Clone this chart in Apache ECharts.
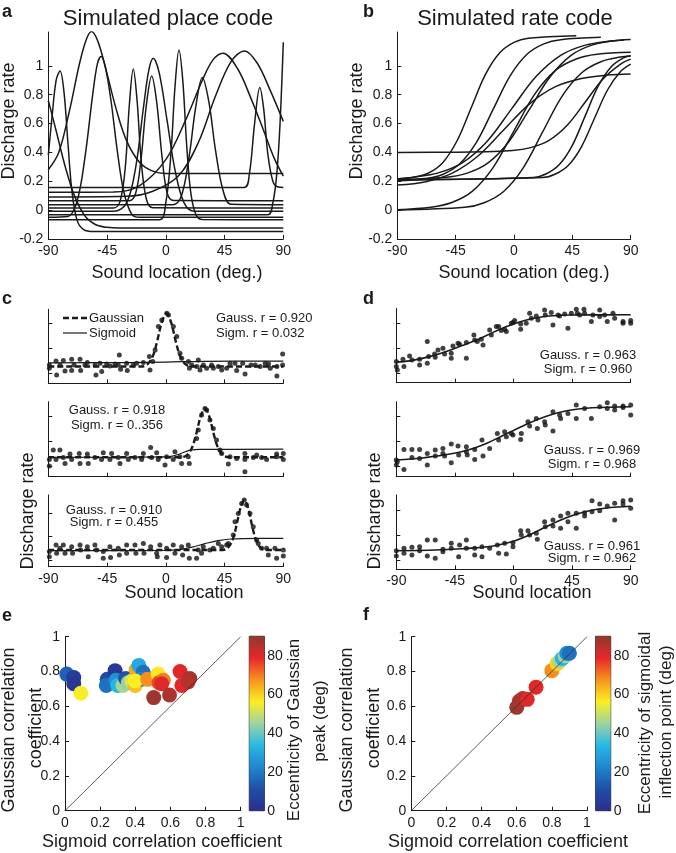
<!DOCTYPE html>
<html>
<head>
<meta charset="utf-8">
<script src="https://cdn.jsdelivr.net/npm/echarts@6/dist/echarts.min.js"></script>
<style>
html, body { margin: 0; padding: 0; background: #fff; }
#fig { width: 676px; height: 853px; }
</style>
</head>
<body>
<div id="fig"></div>
<script>
// ---------- tick labels ----------
var locTicks = [-90, -45, 0, 45, 90];
var rateTicks = [-0.2, 0, 0.2, 0.4, 0.6, 0.8, 1];
var fitTicks = [0, 1, 2];
var corrTicks = [0, 0.2, 0.4, 0.6, 0.8, 1];
var eccTicks = [0, 20, 40, 60, 80];

// ---------- a: simulated place code, [deg, rate] per cell ----------
var placeCurves = [
  [[-90,0.28],[-82,0.4],[-74,0.68],[-66,1.02],[-61,1.18],[-57,1.238],[-52,1.17],[-46,0.98],[-38,0.7],[-30,0.48],[-20,0.33],[-10,0.27],[0,0.254],[90,0.254]],
  [[-90,-0.05],[-75,-0.045],[-68,0.06],[-62,0.36],[-56,0.8],[-52.5,1.01],[-49.6,1.065],[-46.5,1.0],[-42,0.76],[-37,0.4],[-32,0.12],[-26,-0.03],[-20,-0.05],[90,-0.05]],
  [[-90,0.38],[-87,0.66],[-84,0.9],[-81,0.965],[-78,0.82],[-75,0.47],[-72,0.14],[-68,-0.07],[-63,-0.135],[-55,-0.148],[90,-0.148]],
  [[-90,0.76],[-84,0.55],[-77,0.3],[-70,0.1],[-62,-0.04],[-54,-0.1],[-45,-0.12],[-35,-0.125],[90,-0.125]],
  [[-90,0.014],[-40,0.014],[-35,0.06],[-31,0.3],[-28,0.72],[-24.9,0.979],[-22,0.76],[-19,0.36],[-15,0.08],[-10,0.016],[90,0.014]],
  [[-90,-0.009],[-40,-0.009],[-30,0.05],[-23,0.3],[-17,0.72],[-13,0.97],[-9.6,1.053],[-5,0.95],[1,0.62],[7,0.28],[14,0.05],[22,-0.008],[90,-0.009]],
  [[-90,0.065],[-28,0.065],[-23,0.12],[-19,0.35],[-15,0.72],[-10.8,0.93],[-7,0.75],[-3,0.38],[1,0.12],[6,0.066],[90,0.065]],
  [[-90,-0.067],[-5,-0.067],[0,0.05],[4,0.4],[7,0.85],[10.1,1.111],[13,0.9],[16,0.45],[19,0.13],[23,-0.03],[28,-0.066],[90,-0.067]],
  [[-90,0.037],[5,0.037],[12,0.1],[18,0.38],[23,0.72],[28,0.92],[33,0.75],[38,0.42],[44,0.13],[50,0.04],[90,0.037]],
  [[-90,0.123],[-40,0.125],[-20,0.17],[0,0.35],[15,0.62],[28,0.9],[36,1.04],[43.8,1.088],[55,0.98],[65,0.78],[75,0.55],[83,0.36],[90,0.235]],
  [[-90,0.09],[-30,0.095],[-10,0.13],[10,0.24],[25,0.47],[38,0.79],[50,1.03],[60.4,1.104],[70,1.02],[80,0.83],[90,0.615]],
  [[-90,0.157],[60,0.157],[64,0.25],[68,0.6],[72,0.85],[75,0.7],[78,0.4],[82,0.2],[86,0.16],[90,0.157]],
  [[-90,-0.032],[78,-0.032],[82,0.05],[85,0.25],[87.5,0.6],[90,1.164]]
];

// ---------- b: simulated rate code ----------
var rateCurves = [
  [[-90,0.217],[-77,0.228],[-66,0.257],[-55,0.329],[-44,0.479],[-33,0.71],[-22,0.941],[-11,1.091],[0,1.163],[11,1.192],[48,1.209]],
  [[-90,0.203],[-68,0.218],[-55,0.247],[-42,0.319],[-29,0.469],[-16,0.7],[-3,0.931],[10,1.081],[23,1.153],[36,1.182],[67,1.198]],
  [[-90,0.212],[-52,0.228],[-36,0.256],[-20,0.327],[-4,0.474],[12,0.7],[28,0.926],[44,1.073],[60,1.144],[76,1.172],[85,1.18]],
  [[-90,0.215],[-78,0.228],[-59,0.256],[-40,0.327],[-21,0.474],[-2,0.7],[17,0.926],[36,1.073],[55,1.144],[74,1.172],[90,1.183]],
  [[-90,0.173],[-68,0.197],[-48,0.254],[-28,0.373],[-8,0.555],[12,0.737],[32,0.856],[52,0.913],[72,0.936],[90,0.944]],
  [[-90,0.4],[-45,0.401],[-1,0.413],[13,0.433],[27,0.483],[41,0.588],[55,0.75],[69,0.912],[83,1.017],[90,1.047]],
  [[-90,0.003],[-64,0.02],[-48,0.052],[-32,0.131],[-16,0.296],[0,0.55],[16,0.804],[32,0.969],[48,1.048],[64,1.08],[90,1.094]],
  [[-90,0.001],[-38,0.019],[-23,0.051],[-8,0.129],[7,0.291],[22,0.54],[37,0.789],[52,0.951],[67,1.029],[82,1.061],[90,1.068]],
  [[-90,0.21],[15,0.226],[25,0.252],[35,0.316],[45,0.449],[55,0.655],[65,0.861],[75,0.994],[85,1.058],[90,1.07]],
  [[-90,0.21],[22,0.225],[32,0.25],[42,0.311],[52,0.439],[62,0.635],[72,0.831],[82,0.959],[90,1.012]]
];

// ---------- c: example place-coded cells ----------
var placeDots1 = [[-89.2,0.33],[-89.2,0.2],[-84.1,0.49],[-83.6,-0.07],[-81,0.33],[-78.5,0.51],[-77.2,0.09],[-72.1,0.56],[-72.1,0.11],[-70.3,0.33],[-65.7,0.56],[-65.2,0.11],[-61.9,0.33],[-60.1,0.43],[-54.2,0.33],[-53.5,-0.07],[-50.4,0.4],[-49.1,0.07],[-45.3,0.37],[-42.7,0.29],[-38.9,0.37],[-36.4,0.33],[-35.6,0.73],[-34.6,0.16],[-30,0.4],[-29.5,0.11],[-24.9,0.33],[-22.3,0.4],[-17.2,0.43],[-12.6,0.67],[-12.1,0.13],[-10,0.47],[-8.2,0.93],[-5.7,1.87],[-3.1,2.13],[0.8,2.4],[2,2.33],[5.8,1.87],[8.4,1.47],[10.9,0.8],[12.2,0.6],[17.3,0.47],[18.1,0.2],[19.9,0.33],[23.7,0.27],[24.9,0.53],[26.2,0.13],[28.8,0.33],[31.3,0.2],[35.1,0.33],[36.4,0.2],[40.2,0.27],[42.8,0.13],[46.6,0.2],[49.2,0.4],[53,0.4],[54.3,0.11],[58.9,0.4],[60.7,-0.03],[65.3,0.33],[68.5,0.33],[72.3,0.27],[76.1,0.4],[78.7,0.37],[80,0.2],[85.1,0.27],[85.1,-0.11],[89.5,0.77],[89.5,0.33]];
var placeGauss1 = [[-90,0.27],[-18.6,0.27],[-14,0.364],[-9.9,0.692],[-6.5,1.307],[-3,2.049],[0.5,2.4],[4,2.049],[7.5,1.307],[10.9,0.692],[15,0.364],[19.6,0.27],[90,0.27]];
var placeSigm1 = [[-90,0.42],[-30,0.43],[0,0.45],[30,0.48],[90,0.49]];

var placeDots2 = [[-89.2,0.29],[-89.2,0.03],[-86.2,0.67],[-84.1,0.29],[-81.1,0.67],[-78.5,0.37],[-77.2,0.13],[-73.4,0.51],[-72.1,0.29],[-66.3,0.53],[-65.7,0.13],[-60.1,0.51],[-59.4,0.13],[-54.3,0.37],[-49.2,0.29],[-47.9,0.56],[-42.8,0.29],[-41.5,0.53],[-36.4,0.37],[-35.1,0.13],[-30,0.53],[-28.7,0.29],[-23.6,0.37],[-18.5,0.29],[-17.2,0.53],[-11.6,0.77],[-10.9,0.37],[-7,0.56],[-5.8,0.29],[-0.6,0.07],[0.6,0.4],[5.7,0.29],[7,0.6],[10.8,0.4],[12.1,0.13],[17.2,0.4],[18,0.13],[23.6,1.13],[24.9,1.47],[27.4,2.07],[30,2.33],[31.3,2.27],[33.8,1.87],[36.4,1.53],[38.9,1.07],[41.5,0.67],[42.8,0.53],[47.9,0.11],[49.2,0.4],[54.3,0.33],[60.6,0.53],[60.6,0.29],[60.6,-0.2],[67,0.37],[69.6,0.47],[73.4,0.37],[77.2,0.29],[84.9,0.51],[84.9,0.4],[90,0.53],[90,0.29]];
var placeGauss2 = [[-90,0.38],[11.85,0.38],[16.25,0.466],[20.1,0.766],[23.4,1.33],[26.7,2.008],[30,2.33],[33.3,2.008],[36.6,1.33],[39.9,0.766],[43.75,0.466],[48.15,0.38],[90,0.38]];
var placeSigm2 = [[-90,0.37],[0,0.39],[5,0.42],[10,0.5],[15,0.6],[20,0.67],[26,0.69],[90,0.7]];

var placeDots3 = [[-89.2,0.36],[-89.2,0.14],[-84.1,0.64],[-83.6,0.29],[-81.1,0.5],[-78.5,0.64],[-77.2,0.29],[-72.1,0.57],[-71.4,0.29],[-65.7,0.64],[-65.2,0.43],[-60.1,0.57],[-59.4,0.14],[-54.3,0.64],[-53,0.43],[-47.9,0.36],[-47.9,0.07],[-42.8,0.57],[-42.3,0.11],[-36.4,0.5],[-35.6,0.21],[-30,0.64],[-30,0.29],[-23.6,0.64],[-22.9,0.29],[-17.2,0.71],[-16.7,0.29],[-11.6,0.57],[-7,0.29],[-6.5,0.14],[-4.5,0.64],[0.6,0.5],[0.6,0.11],[5.7,0.64],[7,0.29],[12.1,0.57],[12.9,0.21],[17.2,0.64],[18,0.07],[23.6,0.07],[24.9,0.43],[27.4,0.29],[28.7,0.57],[33.8,0.43],[36.4,0.5],[40.2,0.71],[42.8,0.57],[46.6,0.64],[47.9,0.71],[51.7,1.07],[53,1.64],[55.5,2.0],[58.1,2.43],[60.1,2.57],[61.9,2.36],[64.5,2.0],[67,1.43],[69.6,0.86],[70.8,0.71],[73.4,0.5],[77.2,0.5],[78.5,0.21],[83.6,0.5],[84.9,0.07],[90,0.43],[90,0.17]];
var placeGauss3 = [[-90,0.43],[43.6,0.43],[47.6,0.524],[51.1,0.854],[54.1,1.472],[57.1,2.217],[60.1,2.57],[63.1,2.217],[66.1,1.472],[69.1,0.854],[72.6,0.524],[76.6,0.43],[90,0.43]];
var placeSigm3 = [[-90,0.4],[0,0.41],[10,0.44],[20,0.55],[30,0.7],[40,0.83],[50,0.9],[60,0.92],[90,0.93]];

// ---------- d: example rate-coded cells ----------
var rateDots1 = [[-90,0.47],[-90,0.27],[-89.2,0.13],[-84.9,0.56],[-84.1,0.27],[-79.8,0.69],[-78,0.53],[-72.1,0.56],[-72.1,0.33],[-66.2,1.27],[-66.2,0.4],[-65.2,0.67],[-60.6,0.77],[-60.1,0.64],[-58,0.93],[-54.2,1.0],[-52.9,0.77],[-47.8,0.8],[-47.8,0.6],[-46.5,1.09],[-42.6,1.2],[-41.4,1.16],[-36.2,0.6],[-36.2,1.23],[-30.4,1.53],[-29.8,1.33],[-27.8,1.27],[-24.7,1.36],[-23.4,1.13],[-18.3,1.73],[-17,1.53],[-13.2,1.87],[-11.4,1.87],[-9.4,1.71],[-6.8,1.76],[-5.5,1.67],[-1.7,2.0],[-0.4,2.03],[0.9,2.11],[5.5,1.76],[5.5,1.97],[9.8,2.0],[12.4,2.4],[13.7,2.2],[17.5,2.29],[18.8,2.13],[23.9,2.53],[24.4,2.33],[29,2.43],[30.3,1.93],[34.2,2.33],[35.4,2.29],[39.3,2.37],[41.8,1.8],[44.4,2.4],[48.2,2.56],[49,2.4],[50.8,2.33],[54.1,2.56],[54.6,2.4],[59.8,2.07],[61,2.33],[66.2,2.53],[66.2,2.27],[70,2.33],[72,2.07],[76.4,2.4],[77.7,2.2],[84.1,2.07],[84.1,2.0],[90,2.11],[90,2.0]];
var rateSigm1 = [[-90,0.45],[-80,0.5],[-70,0.6],[-60,0.73],[-50,0.9],[-40,1.1],[-30,1.3],[-20,1.53],[-10,1.77],[0,1.97],[10,2.13],[20,2.24],[30,2.3],[45,2.33],[90,2.34]];

var rateDots2 = [[-90,0.27],[-90,0.07],[-89.2,0.2],[-84.1,0.69],[-84.1,-0.11],[-78,0.69],[-78,0.37],[-72.1,0.69],[-72.1,0.33],[-66.2,0.07],[-66.2,0.53],[-60.1,0.67],[-60.1,0.43],[-54.2,0.73],[-54.2,0.53],[-52.9,0.43],[-47.8,0.91],[-47.8,0.16],[-42.6,0.83],[-42.1,0.47],[-36.2,0.8],[-36.2,0.6],[-35.5,0.47],[-29.8,0.29],[-29.8,0.69],[-24.2,1.07],[-23.4,0.43],[-18.3,0.73],[-12.4,1.33],[-11.4,1.07],[-6.8,1.4],[-5.5,1.2],[-1.7,1.33],[-0.4,1.27],[5.5,1.09],[6,1.33],[11.1,1.8],[12.4,1.63],[17.5,1.93],[18.3,1.53],[23.9,1.8],[24.4,1.67],[30.3,2.2],[30.3,1.43],[35.4,2.07],[36.2,1.93],[41.8,2.13],[48.2,2.47],[48.2,1.93],[54.6,2.33],[59.8,1.93],[66.2,2.4],[72,2.56],[72,2.33],[77.7,2.43],[77.7,2.27],[84.1,2.43],[84.1,2.37],[90,2.47],[90,2.07]];
var rateSigm2 = [[-90,0.27],[-70,0.35],[-50,0.5],[-40,0.6],[-30,0.75],[-20,0.95],[-10,1.2],[0,1.45],[10,1.7],[20,1.92],[30,2.1],[40,2.23],[50,2.31],[60,2.36],[90,2.4]];

var rateDots3 = [[-90,0.37],[-90,0.16],[-84.1,0.47],[-84.1,0.27],[-78,0.51],[-78,0.2],[-72.1,0.53],[-72.1,0.37],[-66.2,0.8],[-66.2,0.16],[-60.1,0.8],[-60.1,0.07],[-54.2,0.43],[-54.2,0.33],[-47.8,0.67],[-47.8,0.47],[-42.1,0.13],[-41.4,0.6],[-36.2,0.8],[-36.2,0.47],[-29.8,0.47],[-29.8,0.2],[-24.2,0.53],[-24.2,0.13],[-18.3,0.47],[-12.4,0.6],[-11.4,0.27],[-6.8,0.67],[-5.5,0.24],[-0.4,0.69],[-0.4,0.53],[5.5,1.17],[6,1.0],[11.1,1.17],[12.4,1.0],[17.5,1.07],[18.3,0.83],[23.9,1.53],[24.4,1.33],[30.3,1.6],[30.3,1.36],[36.2,1.76],[36.2,1.27],[41.8,1.87],[41.8,1.53],[48.2,1.87],[48.2,1.27],[54.6,1.89],[54.6,1.76],[60.3,2.37],[60.3,1.93],[66.2,2.24],[66.2,1.97],[72,2.16],[77.7,2.27],[77.7,1.6],[84.1,2.37],[84.1,2.24],[90,2.4],[90,2.07]];
var rateSigm3 = [[-90,0.37],[-60,0.4],[-40,0.45],[-20,0.53],[-10,0.62],[0,0.75],[10,0.95],[20,1.2],[30,1.45],[40,1.68],[50,1.86],[60,1.99],[70,2.07],[80,2.12],[90,2.15]];

// ---------- e / f: [sigmoid r, gaussian r, eccentricity] ----------
var placeCorr = [[0.01,0.785,15],[0.05,0.765,5],[0.05,0.73,3],[0.09,0.675,56],[0.24,0.755,10],[0.235,0.72,18],[0.285,0.805,4],[0.29,0.75,25],[0.30,0.72,33],[0.33,0.72,46],[0.345,0.76,12],[0.36,0.735,44],[0.38,0.745,52],[0.40,0.72,62],[0.405,0.81,65],[0.42,0.835,30],[0.445,0.795,18],[0.43,0.755,22],[0.40,0.745,56],[0.47,0.755,68],[0.53,0.785,57],[0.535,0.735,75],[0.56,0.75,70],[0.55,0.73,80],[0.505,0.65,88],[0.595,0.665,86],[0.655,0.80,80],[0.71,0.76,87],[0.665,0.72,79],[0.70,0.74,85]];
var rateCorr = [[0.60,0.594,88],[0.615,0.63,87],[0.635,0.645,86],[0.66,0.64,80],[0.71,0.71,80],[0.80,0.805,68],[0.83,0.845,60],[0.845,0.86,46],[0.86,0.875,32],[0.875,0.89,45],[0.885,0.905,25],[0.90,0.905,18]];
var unityLine = [[0,0],[1,1]];
var eccRange = [0, 90];
var jetColors = ['#2b2f8f','#1f4fa6','#1f86cf','#27b9e6','#9fd3a0','#fbee23','#f7941e','#e8262a','#8d3b2e'];

// ---------- layout ----------
var ink = '#1a1a1a';
var FONT = '"Liberation Sans", Arial, Helvetica, sans-serif';

var grids = [
  {left: 48.3, top: 32, width: 235, height: 206.9},      // a
  {left: 397.3, top: 32, width: 233.4, height: 206.9},   // b
  {left: 48.3, top: 309.3, width: 235, height: 74},      // c1
  {left: 48.3, top: 401.7, width: 235, height: 75},      // c2
  {left: 48.3, top: 495, width: 235, height: 71.7},      // c3
  {left: 396.3, top: 308.3, width: 234.4, height: 74.4}, // d1
  {left: 396.3, top: 401.7, width: 234.4, height: 75},   // d2
  {left: 396.3, top: 495, width: 234.4, height: 74.3},   // d3
  {left: 65, top: 636.7, width: 175.7, height: 174},     // e
  {left: 249.3, top: 636.3, width: 15, height: 174.4},   // e colorbar
  {left: 411.3, top: 636.7, width: 175.7, height: 174},  // f
  {left: 595.7, top: 636.3, width: 15, height: 174.4}    // f colorbar
];
grids.forEach(function (g) { g.containLabel = false; g.outerBoundsMode = 'none'; });
grids[9].show = true; grids[9].borderColor = ink; grids[9].borderWidth = 1;
grids[11].show = true; grids[11].borderColor = ink; grids[11].borderWidth = 1;

var axLine = {show: true, onZero: false, lineStyle: {color: ink, width: 1}};
var lblStyle = {color: ink, fontSize: 14, fontFamily: FONT, margin: 5};

function locAxis(g, labels) {
  return {type: 'value', gridIndex: g, min: -90, max: 90, interval: 45,
    axisLine: axLine, splitLine: {show: false},
    axisTick: {inside: true, length: 4, lineStyle: {color: ink}},
    axisLabel: Object.assign({show: labels}, lblStyle)};
}
function valAxis(g, min, max, ticks, labels) {
  return {type: 'value', gridIndex: g, min: min, max: max,
    axisLine: axLine, splitLine: {show: false},
    axisTick: {inside: true, length: 4, customValues: ticks, lineStyle: {color: ink}},
    axisLabel: Object.assign({show: labels, customValues: ticks}, lblStyle)};
}
function barXAxis(g) {
  return {type: 'category', gridIndex: g, data: ['c'], show: false};
}
function barYAxis(g) {
  return {type: 'value', gridIndex: g, min: eccRange[0], max: eccRange[1], position: 'right',
    axisLine: {show: false}, splitLine: {show: false},
    axisTick: {show: true, inside: true, length: 3, customValues: eccTicks, lineStyle: {color: ink}},
    axisLabel: Object.assign({}, lblStyle, {customValues: eccTicks, margin: 3})};
}

var xAxes = [
  locAxis(0, true), locAxis(1, true),
  locAxis(2, false), locAxis(3, false), locAxis(4, true),
  locAxis(5, false), locAxis(6, false), locAxis(7, true),
  valAxis(8, 0, 1, corrTicks, true), barXAxis(9),
  valAxis(10, 0, 1, corrTicks, true), barXAxis(11)
];
var yAxes = [
  valAxis(0, -0.2, 1.235, rateTicks, true), valAxis(1, -0.2, 1.235, rateTicks, true),
  valAxis(2, -0.4, 2.56, fitTicks, false), valAxis(3, -0.4, 2.6, fitTicks, false), valAxis(4, -0.29, 2.79, fitTicks, false),
  valAxis(5, -0.373, 2.6, fitTicks, false), valAxis(6, -0.4, 2.6, fitTicks, false), valAxis(7, -0.373, 2.6, fitTicks, false),
  valAxis(8, 0, 1, corrTicks, true), barYAxis(9),
  valAxis(10, 0, 1, corrTicks, true), barYAxis(11)
];

function curve(data, ax, w, dash) {
  return {type: 'line', xAxisIndex: ax, yAxisIndex: ax, data: data, symbol: 'none',
    smooth: 0.35, silent: true, z: 3,
    lineStyle: {color: ink, width: w, type: dash || 'solid'}};
}
function dots(data, ax) {
  return {type: 'scatter', xAxisIndex: ax, yAxisIndex: ax, data: data, symbolSize: 5,
    silent: true, z: 2, itemStyle: {color: '#111'}};
}
var jetGrad = new echarts.graphic.LinearGradient(0, 1, 0, 0,
  jetColors.map(function (c, i) { return {offset: i / (jetColors.length - 1), color: c}; }));
function colorbar(ax) {
  return {type: 'bar', xAxisIndex: ax, yAxisIndex: ax, data: [eccRange[1]], barWidth: '100%',
    silent: true, itemStyle: {color: jetGrad}};
}

var series = [];
placeCurves.forEach(function (d) { series.push(curve(d, 0, 1.5)); });
rateCurves.forEach(function (d) { series.push(curve(d, 1, 1.5)); });

var dash = [6, 3];
series.push(dots(placeDots1, 2), curve(placeSigm1, 2, 1.2), curve(placeGauss1, 2, 2.4, dash));
series.push(dots(placeDots2, 3), curve(placeSigm2, 3, 1.2), curve(placeGauss2, 3, 2.4, dash));
series.push(dots(placeDots3, 4), curve(placeSigm3, 4, 1.2), curve(placeGauss3, 4, 2.4, dash));
series.push(dots(rateDots1, 5), curve(rateSigm1, 5, 1.6));
series.push(dots(rateDots2, 6), curve(rateSigm2, 6, 1.6));
series.push(dots(rateDots3, 7), curve(rateSigm3, 7, 1.6));

var scatterIdx = [];
[[placeCorr, 8], [rateCorr, 10]].forEach(function (p) {
  scatterIdx.push(series.length);
  series.push({type: 'scatter', xAxisIndex: p[1], yAxisIndex: p[1], data: p[0], symbolSize: 15,
    silent: true, z: 2, itemStyle: {opacity: 1}});
  series.push({type: 'line', xAxisIndex: p[1], yAxisIndex: p[1], data: unityLine, symbol: 'none',
    silent: true, z: 4, lineStyle: {color: '#333', width: 0.8}});
  series.push(colorbar(p[1] + 1));
});

// ---------- text ----------
function txt(x, y, s, size, opts) {
  opts = opts || {};
  return {type: 'text', x: x, y: y, rotation: opts.rot ? Math.PI / 2 : 0, silent: true,
    style: {text: s, fill: ink, align: opts.align || 'center', verticalAlign: 'middle',
      font: (opts.bold ? 'bold ' : '') + size + 'px ' + FONT}};
}
function seg(x1, y1, x2, y2, w, d) {
  return {type: 'line', silent: true, shape: {x1: x1, y1: y1, x2: x2, y2: y2},
    style: {stroke: ink, lineWidth: w, lineDash: d || null}};
}
var graphics = [
  txt(2, 12, 'a', 18, {bold: true, align: 'left'}),
  txt(168, 19, 'Simulated place code', 22),
  txt(9, 121, 'Discharge rate', 18, {rot: true}),
  txt(177, 273, 'Sound location (deg.)', 18),
  txt(363, 12, 'b', 18, {bold: true, align: 'left'}),
  txt(515, 19, 'Simulated rate code', 22),
  txt(357, 121, 'Discharge rate', 18, {rot: true}),
  txt(524, 273, 'Sound location (deg.)', 18),

  txt(2, 299, 'c', 18, {bold: true, align: 'left'}),
  txt(28, 511, 'Discharge rate', 18, {rot: true}),
  txt(184, 593, 'Sound location', 18),
  seg(63, 318, 87, 318, 2.4, dash), txt(89, 318, 'Gaussian', 13, {align: 'left'}),
  seg(63, 333, 87, 333, 1.2), txt(89, 333, 'Sigmoid', 13, {align: 'left'}),
  txt(216, 318, 'Gauss. r = 0.920', 13, {align: 'left'}),
  txt(216, 333, 'Sigm. r = 0.032', 13, {align: 'left'}),
  txt(117, 410, 'Gauss. r = 0.918', 13),
  txt(117, 425, 'Sigm. r = 0..356', 13),
  txt(114, 510.5, 'Gauss. r = 0.910', 13),
  txt(114, 522.5, 'Sigm. r = 0.455', 13),

  txt(363, 299, 'd', 18, {bold: true, align: 'left'}),
  txt(375.5, 511, 'Discharge rate', 18, {rot: true}),
  txt(532, 593, 'Sound location', 18),
  txt(588, 355, 'Gauss. r = 0.963', 13),
  txt(588, 369, 'Sigm. r = 0.960', 13),
  txt(592, 450.7, 'Gauss. r = 0.969', 13),
  txt(592, 464, 'Sigm. r = 0.968', 13),
  txt(592, 546.7, 'Gauss. r = 0.961', 13),
  txt(592, 558.7, 'Sigm. r = 0.962', 13),

  txt(2, 616, 'e', 18, {bold: true, align: 'left'}),
  txt(9, 730, 'Gaussian correlation', 18, {rot: true}),
  txt(36, 728, 'coefficient', 18, {rot: true}),
  txt(162, 842, 'Sigmoid correlation coefficient', 18),
  txt(294, 730, 'Eccentricity of Gaussian', 17, {rot: true}),
  txt(320, 721, 'peak (deg)', 17, {rot: true}),

  txt(363, 615, 'f', 18, {bold: true, align: 'left'}),
  txt(347, 730, 'Gaussian correlation', 18, {rot: true}),
  txt(374, 728, 'coefficient', 18, {rot: true}),
  txt(508, 842, 'Sigmoid correlation coefficient', 18),
  txt(645, 723, 'Eccentricity of sigmoidal', 17, {rot: true}),
  txt(666, 722, 'inflection point (deg)', 17, {rot: true})
];

var chart = echarts.init(document.getElementById('fig'), null, {renderer: 'canvas'});
chart.setOption({
  animation: false,
  backgroundColor: '#fff',
  textStyle: {fontFamily: FONT},
  grid: grids,
  xAxis: xAxes,
  yAxis: yAxes,
  visualMap: [{type: 'continuous', show: false, min: eccRange[0], max: eccRange[1], dimension: 2,
    seriesIndex: scatterIdx, inRange: {color: jetColors}}],
  series: series,
  graphic: graphics
});
</script>
</body>
</html>
